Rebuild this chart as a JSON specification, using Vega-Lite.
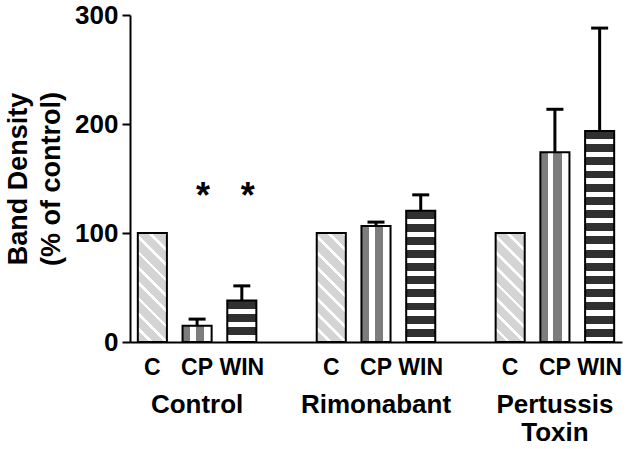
{
  "$schema": "https://vega.github.io/schema/vega-lite/v6.json",
  "width": 492,
  "height": 327,
  "autosize": {"type": "none"},
  "padding": {"left": 130, "top": 15, "right": 7, "bottom": 107},
  "background": "white",
  "config": {
    "view": {"stroke": null},
    "font": "Liberation Sans",
    "axisY": {
      "titleFont": "Liberation Sans",
      "titleFontSize": 27,
      "titleFontWeight": "bold",
      "titleColor": "black",
      "titleLineHeight": 33,
      "titlePadding": 9,
      "grid": false,
      "tickSize": 8,
      "tickWidth": 2,
      "tickColor": "black",
      "domainColor": "black",
      "domainWidth": 2,
      "labelFont": "Liberation Sans",
      "labelFontSize": 26,
      "labelFontWeight": "bold",
      "labelColor": "black",
      "labelPadding": 4
    }
  },
  "data": {
    "values": [
      {"treatment": "Control", "drug": "C", "value": 100, "upper": null, "sig": null},
      {"treatment": "Control", "drug": "CP", "value": 15, "upper": 21, "sig": "*"},
      {"treatment": "Control", "drug": "WIN", "value": 38, "upper": 51.5, "sig": "*"},
      {"treatment": "Rimonabant", "drug": "C", "value": 100, "upper": null, "sig": null},
      {"treatment": "Rimonabant", "drug": "CP", "value": 106.5, "upper": 110, "sig": null},
      {"treatment": "Rimonabant", "drug": "WIN", "value": 120.5, "upper": 135, "sig": null},
      {"treatment": "Pertussis Toxin", "drug": "C", "value": 100, "upper": null, "sig": null},
      {"treatment": "Pertussis Toxin", "drug": "CP", "value": 174, "upper": 213.5, "sig": null},
      {"treatment": "Pertussis Toxin", "drug": "WIN", "value": 193.6, "upper": 288, "sig": null}
    ]
  },
  "encoding": {
    "x": {
      "field": "treatment",
      "type": "nominal",
      "sort": ["Control", "Rimonabant", "Pertussis Toxin"],
      "scale": {"paddingInner": 0.25, "paddingOuter": 0},
      "axis": {
        "title": null,
        "ticks": false,
        "tickSize": 0,
        "domainColor": "black",
        "domainWidth": 2,
        "labelAngle": 0,
        "labelFont": "Liberation Sans",
        "labelFontSize": 26,
        "labelFontWeight": "bold",
        "labelColor": "black",
        "labelPadding": 49,
        "labelLineHeight": 28,
        "labelExpr": "datum.label == 'Pertussis Toxin' ? ['Pertussis', 'Toxin'] : datum.label"
      }
    },
    "xOffset": {
      "field": "drug",
      "type": "nominal",
      "sort": ["C", "CP", "WIN"],
      "scale": {"paddingInner": 0.35, "paddingOuter": 0.175}
    },
    "y": {
      "field": "value",
      "type": "quantitative",
      "scale": {"domain": [0, 300], "nice": false, "zero": true},
      "axis": {"title": ["Band Density", "(% of control)"], "values": [0, 100, 200, 300]}
    }
  },
  "layer": [
    {
      "transform": [{"filter": "datum.drug == 'C'"}],
      "mark": {
        "type": "bar",
        "stroke": "black",
        "strokeWidth": 2,
        "color": {
          "gradient": "linear",
          "x1": 0, "y1": 1, "x2": 0.3157, "y2": -0.1827,
          "stops": [
            {"offset": 0, "color": "#d4d4d4"}, {"offset": 0.083, "color": "#d4d4d4"}, {"offset": 0.083, "color": "#ffffff"}, {"offset": 0.111, "color": "#ffffff"},
            {"offset": 0.111, "color": "#d4d4d4"}, {"offset": 0.194, "color": "#d4d4d4"}, {"offset": 0.194, "color": "#ffffff"}, {"offset": 0.222, "color": "#ffffff"},
            {"offset": 0.222, "color": "#d4d4d4"}, {"offset": 0.306, "color": "#d4d4d4"}, {"offset": 0.306, "color": "#ffffff"}, {"offset": 0.333, "color": "#ffffff"},
            {"offset": 0.333, "color": "#d4d4d4"}, {"offset": 0.417, "color": "#d4d4d4"}, {"offset": 0.417, "color": "#ffffff"}, {"offset": 0.444, "color": "#ffffff"},
            {"offset": 0.444, "color": "#d4d4d4"}, {"offset": 0.528, "color": "#d4d4d4"}, {"offset": 0.528, "color": "#ffffff"}, {"offset": 0.556, "color": "#ffffff"},
            {"offset": 0.556, "color": "#d4d4d4"}, {"offset": 0.639, "color": "#d4d4d4"}, {"offset": 0.639, "color": "#ffffff"}, {"offset": 0.667, "color": "#ffffff"},
            {"offset": 0.667, "color": "#d4d4d4"}, {"offset": 0.75, "color": "#d4d4d4"}, {"offset": 0.75, "color": "#ffffff"}, {"offset": 0.778, "color": "#ffffff"},
            {"offset": 0.778, "color": "#d4d4d4"}, {"offset": 0.861, "color": "#d4d4d4"}, {"offset": 0.861, "color": "#ffffff"}, {"offset": 0.889, "color": "#ffffff"},
            {"offset": 0.889, "color": "#d4d4d4"}, {"offset": 0.972, "color": "#d4d4d4"}, {"offset": 0.972, "color": "#ffffff"}, {"offset": 1, "color": "#ffffff"}
          ]
        }
      }
    },
    {
      "transform": [{"filter": "datum.drug == 'CP'"}],
      "mark": {
        "type": "bar",
        "stroke": "black",
        "strokeWidth": 2,
        "color": {
          "gradient": "linear",
          "x1": 0, "y1": 0, "x2": 1, "y2": 0,
          "stops": [
            {"offset": 0, "color": "#7d7d7d"}, {"offset": 0.27, "color": "#7d7d7d"}, {"offset": 0.27, "color": "#ffffff"}, {"offset": 0.45, "color": "#ffffff"},
            {"offset": 0.45, "color": "#7d7d7d"}, {"offset": 0.73, "color": "#7d7d7d"}, {"offset": 0.73, "color": "#ffffff"}, {"offset": 1, "color": "#ffffff"}
          ]
        }
      }
    },
    {
      "transform": [{"filter": "datum.drug == 'WIN' && datum.treatment == 'Control'"}],
      "mark": {
        "type": "bar",
        "stroke": "black",
        "strokeWidth": 2,
        "color": {
          "gradient": "linear",
          "x1": 0, "y1": 0, "x2": 0, "y2": 1,
          "stops": [
            {"offset": 0, "color": "#303030"}, {"offset": 0.2, "color": "#303030"}, {"offset": 0.2, "color": "#ffffff"}, {"offset": 0.32, "color": "#ffffff"},
            {"offset": 0.32, "color": "#303030"}, {"offset": 0.52, "color": "#303030"}, {"offset": 0.52, "color": "#ffffff"}, {"offset": 0.64, "color": "#ffffff"},
            {"offset": 0.64, "color": "#303030"}, {"offset": 0.83, "color": "#303030"}, {"offset": 0.83, "color": "#ffffff"}, {"offset": 1, "color": "#ffffff"}
          ]
        }
      }
    },
    {
      "transform": [{"filter": "datum.drug == 'WIN' && datum.treatment == 'Rimonabant'"}],
      "mark": {
        "type": "bar",
        "stroke": "black",
        "strokeWidth": 2,
        "color": {
          "gradient": "linear",
          "x1": 0, "y1": 0, "x2": 0, "y2": 1,
          "stops": [
            {"offset": 0, "color": "#303030"}, {"offset": 0.06, "color": "#303030"}, {"offset": 0.06, "color": "#ffffff"}, {"offset": 0.1, "color": "#ffffff"},
            {"offset": 0.1, "color": "#303030"}, {"offset": 0.16, "color": "#303030"}, {"offset": 0.16, "color": "#ffffff"}, {"offset": 0.2, "color": "#ffffff"},
            {"offset": 0.2, "color": "#303030"}, {"offset": 0.26, "color": "#303030"}, {"offset": 0.26, "color": "#ffffff"}, {"offset": 0.3, "color": "#ffffff"},
            {"offset": 0.3, "color": "#303030"}, {"offset": 0.36, "color": "#303030"}, {"offset": 0.36, "color": "#ffffff"}, {"offset": 0.4, "color": "#ffffff"},
            {"offset": 0.4, "color": "#303030"}, {"offset": 0.46, "color": "#303030"}, {"offset": 0.46, "color": "#ffffff"}, {"offset": 0.5, "color": "#ffffff"},
            {"offset": 0.5, "color": "#303030"}, {"offset": 0.56, "color": "#303030"}, {"offset": 0.56, "color": "#ffffff"}, {"offset": 0.6, "color": "#ffffff"},
            {"offset": 0.6, "color": "#303030"}, {"offset": 0.66, "color": "#303030"}, {"offset": 0.66, "color": "#ffffff"}, {"offset": 0.7, "color": "#ffffff"},
            {"offset": 0.7, "color": "#303030"}, {"offset": 0.76, "color": "#303030"}, {"offset": 0.76, "color": "#ffffff"}, {"offset": 0.8, "color": "#ffffff"},
            {"offset": 0.8, "color": "#303030"}, {"offset": 0.86, "color": "#303030"}, {"offset": 0.86, "color": "#ffffff"}, {"offset": 0.9, "color": "#ffffff"},
            {"offset": 0.9, "color": "#303030"}, {"offset": 0.96, "color": "#303030"}, {"offset": 0.96, "color": "#ffffff"}, {"offset": 1, "color": "#ffffff"}
          ]
        }
      }
    },
    {
      "transform": [{"filter": "datum.drug == 'WIN' && datum.treatment == 'Pertussis Toxin'"}],
      "mark": {
        "type": "bar",
        "stroke": "black",
        "strokeWidth": 2,
        "color": {
          "gradient": "linear",
          "x1": 0, "y1": 0, "x2": 0, "y2": 1,
          "stops": [
            {"offset": 0, "color": "#303030"}, {"offset": 0.0375, "color": "#303030"}, {"offset": 0.0375, "color": "#ffffff"}, {"offset": 0.0625, "color": "#ffffff"},
            {"offset": 0.0625, "color": "#303030"}, {"offset": 0.1, "color": "#303030"}, {"offset": 0.1, "color": "#ffffff"}, {"offset": 0.125, "color": "#ffffff"},
            {"offset": 0.125, "color": "#303030"}, {"offset": 0.1625, "color": "#303030"}, {"offset": 0.1625, "color": "#ffffff"}, {"offset": 0.1875, "color": "#ffffff"},
            {"offset": 0.1875, "color": "#303030"}, {"offset": 0.225, "color": "#303030"}, {"offset": 0.225, "color": "#ffffff"}, {"offset": 0.25, "color": "#ffffff"},
            {"offset": 0.25, "color": "#303030"}, {"offset": 0.2875, "color": "#303030"}, {"offset": 0.2875, "color": "#ffffff"}, {"offset": 0.3125, "color": "#ffffff"},
            {"offset": 0.3125, "color": "#303030"}, {"offset": 0.35, "color": "#303030"}, {"offset": 0.35, "color": "#ffffff"}, {"offset": 0.375, "color": "#ffffff"},
            {"offset": 0.375, "color": "#303030"}, {"offset": 0.4125, "color": "#303030"}, {"offset": 0.4125, "color": "#ffffff"}, {"offset": 0.4375, "color": "#ffffff"},
            {"offset": 0.4375, "color": "#303030"}, {"offset": 0.475, "color": "#303030"}, {"offset": 0.475, "color": "#ffffff"}, {"offset": 0.5, "color": "#ffffff"},
            {"offset": 0.5, "color": "#303030"}, {"offset": 0.5375, "color": "#303030"}, {"offset": 0.5375, "color": "#ffffff"}, {"offset": 0.5625, "color": "#ffffff"},
            {"offset": 0.5625, "color": "#303030"}, {"offset": 0.6, "color": "#303030"}, {"offset": 0.6, "color": "#ffffff"}, {"offset": 0.625, "color": "#ffffff"},
            {"offset": 0.625, "color": "#303030"}, {"offset": 0.6625, "color": "#303030"}, {"offset": 0.6625, "color": "#ffffff"}, {"offset": 0.6875, "color": "#ffffff"},
            {"offset": 0.6875, "color": "#303030"}, {"offset": 0.725, "color": "#303030"}, {"offset": 0.725, "color": "#ffffff"}, {"offset": 0.75, "color": "#ffffff"},
            {"offset": 0.75, "color": "#303030"}, {"offset": 0.7875, "color": "#303030"}, {"offset": 0.7875, "color": "#ffffff"}, {"offset": 0.8125, "color": "#ffffff"},
            {"offset": 0.8125, "color": "#303030"}, {"offset": 0.85, "color": "#303030"}, {"offset": 0.85, "color": "#ffffff"}, {"offset": 0.875, "color": "#ffffff"},
            {"offset": 0.875, "color": "#303030"}, {"offset": 0.9125, "color": "#303030"}, {"offset": 0.9125, "color": "#ffffff"}, {"offset": 0.9375, "color": "#ffffff"},
            {"offset": 0.9375, "color": "#303030"}, {"offset": 0.975, "color": "#303030"}, {"offset": 0.975, "color": "#ffffff"}, {"offset": 1, "color": "#ffffff"}
          ]
        }
      }
    },
    {
      "transform": [{"filter": "datum.upper != null"}],
      "mark": {"type": "rule", "color": "black", "strokeWidth": 3},
      "encoding": {
        "y2": {"field": "upper"}
      }
    },
    {
      "transform": [{"filter": "datum.upper != null"}],
      "mark": {"type": "tick", "color": "black", "size": 17, "thickness": 3, "opacity": 1},
      "encoding": {
        "y": {"field": "upper", "type": "quantitative"}
      }
    },
    {
      "transform": [{"filter": "datum.sig != null"}],
      "mark": {"type": "text", "font": "Liberation Sans", "fontSize": 36, "fontWeight": "bold", "color": "black", "baseline": "alphabetic", "dx": 6},
      "encoding": {
        "y": {"datum": 123, "type": "quantitative"},
        "text": {"field": "sig"}
      }
    },
    {
      "mark": {"type": "text", "font": "Liberation Sans", "fontSize": 23, "fontWeight": "bold", "color": "black", "baseline": "alphabetic", "dy": 33},
      "encoding": {
        "y": {"datum": 0, "type": "quantitative"},
        "text": {"field": "drug"}
      }
    }
  ]
}
